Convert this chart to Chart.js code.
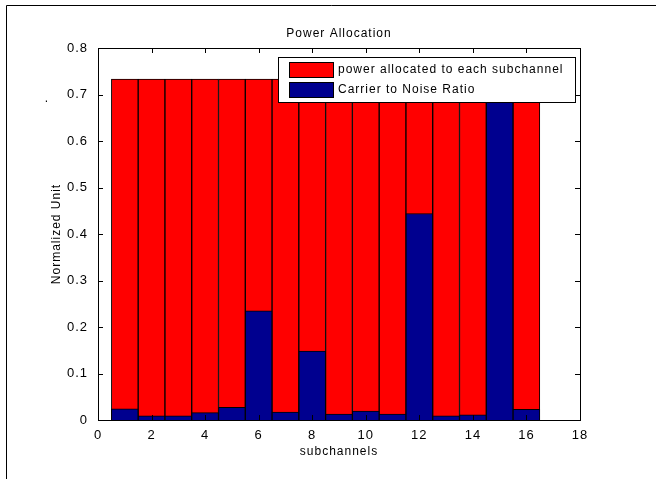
<!DOCTYPE html>
<html>
<head>
<meta charset="utf-8">
<script src="https://cdn.jsdelivr.net/npm/chart.js@4/dist/chart.umd.min.js"></script>
<style>
  html, body { margin: 0; padding: 0; background: #fff; }
  #wrap { position: relative; width: 656px; height: 479px; }
</style>
</head>
<body>
<div id="wrap"><canvas id="power-chart"></canvas></div>
<script>
(function() {
	'use strict';

	// dados
	var subchannels = [1, 2, 3, 4, 5, 6, 7, 8, 9, 10, 11, 12, 13, 14, 15, 16];
	var powerLevel = [0.733, 0.733, 0.733, 0.733, 0.733, 0.733, 0.733, 0.733,
	                  0.733, 0.733, 0.733, 0.733, 0.733, 0.733, 0.733, 0.733];
	var cnr = [0.024, 0.009, 0.009, 0.016, 0.027, 0.235, 0.017, 0.148,
	           0.013, 0.019, 0.013, 0.444, 0.009, 0.011, 0.75, 0.023];
	var xTicks = [0, 2, 4, 6, 8, 10, 12, 14, 16, 18];
	var yTicks = [0, 0.1, 0.2, 0.3, 0.4, 0.5, 0.6, 0.7, 0.8];

	var font = '"Liberation Sans", Arial, sans-serif';

	function points(values) {
		return subchannels.map(function(x, i) { return { x: x, y: values[i] }; });
	}

	// caixa, ticks internos, legenda e textos ao estilo matlab
	var matlabAxes = {
		id: 'matlabAxes',
		beforeDraw: function(chart) {
			chart.ctx.letterSpacing = '1px';
		},
		afterDatasetsDraw: function(chart) {
			var c = chart.ctx, a = chart.chartArea;
			var xs = chart.scales.x, ys = chart.scales.y;
			c.save();
			c.letterSpacing = '1px';
			c.strokeStyle = '#000';
			c.lineWidth = 1;
			c.strokeRect(Math.round(a.left) + 0.5, Math.round(a.top) + 0.5,
				Math.round(a.right - a.left), Math.round(a.bottom - a.top));
			c.beginPath();
			xTicks.forEach(function(v) {
				var px = Math.round(xs.getPixelForValue(v)) + 0.5;
				c.moveTo(px, a.bottom); c.lineTo(px, a.bottom - 5);
				c.moveTo(px, a.top); c.lineTo(px, a.top + 5);
			});
			yTicks.forEach(function(v) {
				var py = Math.round(ys.getPixelForValue(v)) + 0.5;
				c.moveTo(a.left, py); c.lineTo(a.left + 5, py);
				c.moveTo(a.right, py); c.lineTo(a.right - 5, py);
			});
			c.stroke();

			// legenda
			var lx = 278.5, ly = 57.5, lw = 297, lh = 45;
			c.fillStyle = '#fff';
			c.fillRect(lx, ly, lw, lh);
			c.strokeRect(lx, ly, lw, lh);
			c.font = '12px ' + font;
			c.textBaseline = 'middle';
			c.textAlign = 'left';
			var items = [chart.data.datasets[1], chart.data.datasets[0]];
			items.forEach(function(ds, i) {
				var y = 62 + i * 20;
				c.fillStyle = ds.backgroundColor;
				c.fillRect(289, y, 44, 15);
				c.strokeRect(289.5, y + 0.5, 44, 15);
				c.fillStyle = '#000';
				c.fillText(ds.label, 338, y + 8);
			});

			// titulo e rotulos
			c.textAlign = 'center';
			c.fillText('Power Allocation', (a.left + a.right) / 2, 34);
			c.fillText('subchannels', (a.left + a.right) / 2, 452);
			c.save();
			c.translate(57, (a.top + a.bottom) / 2);
			c.rotate(-Math.PI / 2);
			c.fillText('Normalized Unit', 0, 0);
			c.restore();
			c.fillText('.', 47, 99);

			// moldura da figura
			c.beginPath();
			c.moveTo(6.5, 479); c.lineTo(6.5, 5.5); c.lineTo(656, 5.5);
			c.stroke();
			c.restore();
		}
	};

	var ctx = document.getElementById('power-chart');

	new Chart(ctx, {
		type: 'bar',
		data: {
			datasets: [
				{
					label: 'Carrier to Noise Ratio',
					data: points(cnr),
					backgroundColor: '#00008f',
					borderColor: '#000',
					borderWidth: 1,
					order: 0
				},
				{
					label: 'power allocated to each subchannel',
					data: points(powerLevel),
					backgroundColor: '#ff0000',
					borderColor: '#000',
					borderWidth: 1,
					order: 1
				}
			]
		},
		options: {
			responsive: true,
			maintainAspectRatio: false,
			animation: false,
			grouped: false,
			barPercentage: 1,
			categoryPercentage: 1,
			layout: { padding: { top: 48, right: 76, bottom: 0, left: 0 } },
			plugins: {
				legend: { display: false },
				title: { display: false },
				tooltip: { enabled: false }
			},
			scales: {
				x: {
					type: 'linear',
					min: 0,
					max: 18,
					offset: false,
					grid: { display: false },
					border: { display: false },
					afterBuildTicks: function(s) { s.ticks = xTicks.map(function(v) { return { value: v }; }); },
					afterFit: function(s) { s.height = 59; },
					ticks: { color: '#000', font: { family: font, size: 13 }, padding: 0 }
				},
				y: {
					min: 0,
					max: 0.8,
					grid: { display: false },
					border: { display: false },
					afterBuildTicks: function(s) { s.ticks = yTicks.map(function(v) { return { value: v }; }); },
					afterFit: function(s) { s.width = 98; },
					ticks: {
						color: '#000',
						font: { family: font, size: 13 },
						padding: 2,
						callback: function(v) { return v === 0 ? '0' : v.toFixed(1); }
					}
				}
			}
		},
		plugins: [matlabAxes]
	});
})();
</script>
</body>
</html>
